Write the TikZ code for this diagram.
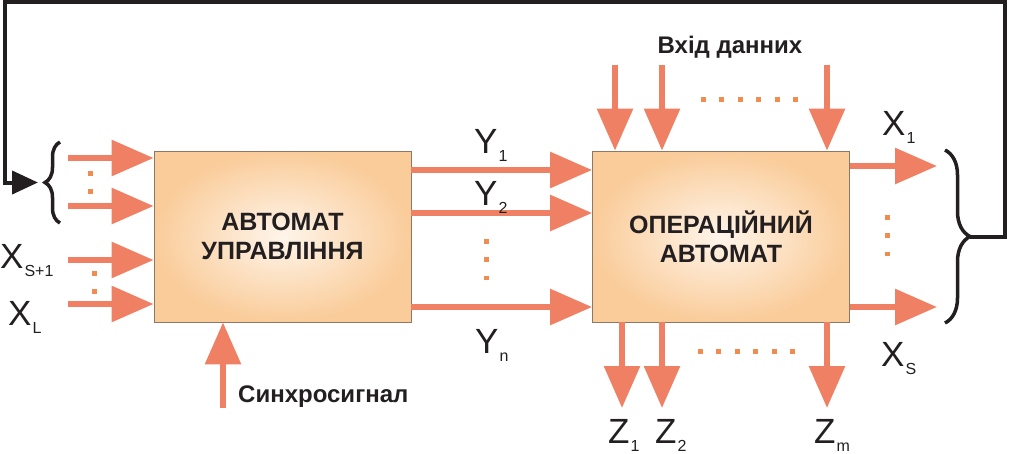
\documentclass[tikz,border=0pt]{standalone}
\usepackage{fontspec}
\setmainfont{Liberation Sans}
\usetikzlibrary{arrows.meta,decorations.pathreplacing}
\definecolor{arrowc}{RGB}{239,128,100}
\definecolor{dotc}{RGB}{240,140,80}
\definecolor{peach}{RGB}{250,204,154}
\definecolor{cream}{RGB}{254,245,234}
\definecolor{edgec}{RGB}{140,120,100}
\definecolor{inkc}{RGB}{35,31,32}
\newcommand{\lbl}[2]{#1\kern1pt\raisebox{-8pt}{\fontsize{16}{16}\selectfont#2}}

\begin{document}
\begin{tikzpicture}[x=1pt, y=-1pt,
    unit/.style={draw=edgec, line width=0.8pt, inner color=cream, outer color=peach, minimum width=257pt, minimum height=171pt, align=center, text=inkc, font=\bfseries\fontsize{25}{29}\selectfont},
    sig/.style={draw=arrowc, line width=6pt, -{Triangle[length=42pt, width=35pt]}},
    fback/.style={draw=inkc, line width=4pt, -{Triangle[length=26pt, width=23pt]}},
    dots/.style={draw=dotc, line width=5pt, dash pattern=on 5pt off 13.5pt},
    sigtext/.style={text=inkc, font=\fontsize{35}{35}\selectfont, inner sep=0pt, anchor=base west},
    captext/.style={text=inkc, font=\bfseries\fontsize{24}{24}\selectfont, inner sep=0pt},
    curly/.style={draw=inkc, line width=3.5pt, decorate, decoration={brace, amplitude=#1}}
]
    \useasboundingbox (0,0) rectangle (1009,453);

    % Nodes
    \node[unit] (control) at (282.5,236.5) {АВТОМАТ\\УПРАВЛІННЯ};
    \node[unit] (oper) at (721,236.5) {ОПЕРАЦІЙНИЙ\\АВТОМАТ};

    \node[captext, anchor=base] (data) at (730,53) {Вхід данних};
    \node[captext, anchor=base west] (sync) at (238,402) {Синхросигнал};

    % Free ends
    \coordinate (in1) at (68,158);
    \coordinate (in2) at (68,206);
    \coordinate (in3) at (68,260);
    \coordinate (in4) at (68,304);
    \coordinate (d1) at (615,65);
    \coordinate (d2) at (662,65);
    \coordinate (dm) at (827,65);
    \coordinate (o1) at (622,408);
    \coordinate (o2) at (662,408);
    \coordinate (om) at (827,408);
    \coordinate (out1) at (937,166);
    \coordinate (outs) at (937,307);
    \coordinate (clk) at (223,408);
    \coordinate (fbout) at (970,236.5);
    \coordinate (fbR) at (1005,2);
    \coordinate (fbL) at (5,2);
    \coordinate (fbin) at (38,182.5);

    % Arrows
    \draw[sig] (in1) -- (in1 -| control.west);
    \draw[sig] (in2) -- (in2 -| control.west);
    \draw[sig] (in3) -- (in3 -| control.west);
    \draw[sig] (in4) -- (in4 -| control.west);
    \draw[sig] (clk) -- (clk |- control.south);
    \draw[sig] ([yshift=66.5pt]control.east) -- ([yshift=66.5pt]oper.west);
    \draw[sig] ([yshift=23.5pt]control.east) -- ([yshift=23.5pt]oper.west);
    \draw[sig] ([yshift=-70.5pt]control.east) -- ([yshift=-70.5pt]oper.west);
    \draw[sig] (d1) -- (d1 |- oper.north);
    \draw[sig] (d2) -- (d2 |- oper.north);
    \draw[sig] (dm) -- (dm |- oper.north);
    \draw[sig] (o1 |- oper.south) -- (o1);
    \draw[sig] (o2 |- oper.south) -- (o2);
    \draw[sig] (om |- oper.south) -- (om);
    \draw[sig] (out1 -| oper.east) -- (out1);
    \draw[sig] (outs -| oper.east) -- (outs);

    % Signal names
    \node[sigtext] (xs1) at (0,268) {\lbl{X}{S+1}};
    \node[sigtext] (xl) at (8,325) {\lbl{X}{L}};
    \node[sigtext] (y1) at (474,153) {\lbl{Y}{1}};
    \node[sigtext] (y2) at (474,205) {\lbl{Y}{2}};
    \node[sigtext] (yn) at (475,353) {\lbl{Y}{n}};
    \node[sigtext] (x1) at (882,135) {\lbl{X}{1}};
    \node[sigtext] (xs) at (881,366) {\lbl{X}{S}};
    \node[sigtext] (z1) at (608,443) {\lbl{Z}{1}};
    \node[sigtext] (z2) at (655,443) {\lbl{Z}{2}};
    \node[sigtext] (zm) at (814,443) {\lbl{Z}{m}};

    % Dots
    \draw[dots] (90,170.5) -- (90,195);
    \draw[dots] (94,270.5) -- (94,295);
    \draw[dots] (486,238.5) -- (486,280);
    \draw[dots] (887,214.5) -- (887,256);
    \draw[dots] (700.5,99) -- (797.5,99);
    \draw[dots] (697.5,351) -- (795,351);

    % Braces and feedback
    \draw[curly=15pt] (60,223) -- (60,142);
    \draw[curly=25pt] (945,150) -- (945,323);
    \draw[fback] (fbout) -| (fbR) -- (fbL) |- (fbin);
\end{tikzpicture}
\end{document}
